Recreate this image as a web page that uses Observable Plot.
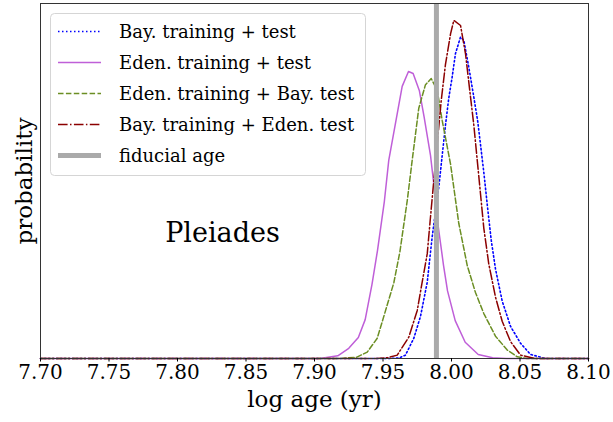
<!DOCTYPE html>
<html>
<head>
<meta charset="utf-8">
<script src="https://cdn.jsdelivr.net/npm/d3@7"></script>
<script src="https://cdn.jsdelivr.net/npm/@observablehq/plot@0.6"></script>
<style>
  html, body { margin: 0; padding: 0; background: #fff; }
  #chart { width: 613px; height: 422px; }
</style>
</head>
<body>
<div id="chart"></div>
<script>
// Age posteriors for the Pleiades: [log age (yr), relative probability]
const bayTrainTest = [
  [7.700, 0], [7.955, 0], [7.9620, 0.002], [7.9664, 0.010], [7.9725, 0.060],
  [7.9774, 0.125], [7.9823, 0.226], [7.9859, 0.360], [7.9907, 0.506],
  [7.9932, 0.600], [7.9956, 0.690], [7.9980, 0.770], [8.0005, 0.833],
  [8.0029, 0.902], [8.0066, 0.951], [8.0090, 0.941], [8.0126, 0.862],
  [8.0163, 0.773], [8.0192, 0.700], [8.0236, 0.550], [8.0265, 0.440],
  [8.0290, 0.350], [8.0321, 0.265], [8.0370, 0.170], [8.0431, 0.095],
  [8.0504, 0.045], [8.0577, 0.012], [8.0686, 0], [8.100, 0]
];
const edenTrainTest = [
  [7.700, 0], [7.904, 0], [7.917, 0.008], [7.925, 0.030], [7.932, 0.062],
  [7.937, 0.115], [7.942, 0.220], [7.946, 0.320], [7.951, 0.465],
  [7.9542, 0.586], [7.9640, 0.805], [7.9686, 0.849], [7.9720, 0.843],
  [7.9765, 0.793], [7.9800, 0.715], [7.9847, 0.600], [7.9871, 0.515],
  [7.9900, 0.400], [7.9942, 0.275], [7.9971, 0.200], [8.0027, 0.112],
  [8.0100, 0.048], [8.0195, 0.012], [8.0300, 0.002], [8.040, 0], [8.100, 0]
];
const edenTrainBayTest = [
  [7.700, 0], [7.919, 0], [7.931, 0.004], [7.9385, 0.019], [7.9458, 0.060],
  [7.9510, 0.130], [7.9579, 0.224], [7.9623, 0.315], [7.9677, 0.467],
  [7.9713, 0.586], [7.9761, 0.740], [7.9810, 0.810], [7.9852, 0.828],
  [7.9896, 0.793], [7.9932, 0.704], [7.9993, 0.575], [8.0053, 0.400],
  [8.0115, 0.275], [8.0175, 0.195], [8.0236, 0.133], [8.0321, 0.066],
  [8.0407, 0.025], [8.0480, 0.005], [8.055, 0], [8.100, 0]
];
const bayTrainEdenTest = [
  [7.700, 0], [7.945, 0], [7.9530, 0.002], [7.9604, 0.010], [7.9688, 0.063],
  [7.9750, 0.142], [7.9786, 0.226], [7.9823, 0.310], [7.9847, 0.420],
  [7.9871, 0.527], [7.9925, 0.763], [7.9956, 0.870], [7.9993, 0.960],
  [8.0017, 1.000], [8.0066, 0.985], [8.0102, 0.902], [8.0139, 0.773],
  [8.0163, 0.690], [8.0199, 0.540], [8.0236, 0.385], [8.0272, 0.280],
  [8.0321, 0.182], [8.0370, 0.110], [8.0431, 0.050], [8.0504, 0.010],
  [8.061, 0], [8.100, 0]
];
const fiducialAge = [7.989];

const seriesNames = [
  "Bay. training + test",
  "Eden. training + test",
  "Eden. training + Bay. test",
  "Bay. training + Eden. test",
  "fiducial age"
];
const xTicks = [7.70, 7.75, 7.80, 7.85, 7.90, 7.95, 8.00, 8.05, 8.10];
const xLabel = "log age (yr)";
const yLabel = "probability";
const clusterName = "Pleiades";

const FONT = "DejaVu Serif";

// Line styles (matplotlib-like dash patterns at 1.5 px width)
const styles = [
  {stroke: "#0000ff", dash: "1.5,2.5", width: 1.6},
  {stroke: "#bf5fd8", dash: null, width: 1.5},
  {stroke: "#6b8e23", dash: "5.5,2.4", width: 1.5},
  {stroke: "#8b0000", dash: "9.6,2.4,1.5,2.4", width: 1.5},
  {stroke: "#aaaaaa", dash: null, width: 5}
];
const seriesData = [bayTrainTest, edenTrainTest, edenTrainBayTest, bayTrainEdenTest];

const lineMarks = seriesData.map((data, i) =>
  Plot.line(data, {
    x: d => d[0],
    y: d => d[1],
    stroke: styles[i].stroke,
    strokeWidth: styles[i].width,
    strokeDasharray: styles[i].dash
  })
);

const chart = Plot.plot({
  width: 613,
  height: 422,
  marginLeft: 40,
  marginRight: 25,
  marginTop: 3,
  marginBottom: 64,
  style: {fontFamily: FONT, fontSize: "20px", background: "white", color: "black"},
  x: {domain: [7.7, 8.1], axis: null},
  y: {domain: [0, 1.05], axis: null},
  marks: [
    ...lineMarks,
    Plot.ruleX(fiducialAge, {stroke: styles[4].stroke, strokeWidth: styles[4].width}),
    Plot.frame({stroke: "#333", strokeWidth: 1}),
    Plot.axisX({
      ticks: xTicks,
      tickFormat: d => d.toFixed(2),
      tickSize: 3.5,
      tickPadding: 3,
      fontSize: 20,
      label: null
    }),
    Plot.text([xLabel], {frameAnchor: "bottom", dy: 48, fontSize: 23}),
    Plot.text([yLabel], {frameAnchor: "left", textAnchor: "middle", dx: -16, rotate: -90, fontSize: 23}),
    Plot.text([clusterName], {x: 7.791, y: 0.345, textAnchor: "start", lineAnchor: "bottom", fontSize: 27})
  ]
});

document.getElementById("chart").appendChild(chart);

// Legend box in the upper-left corner of the axes
const svg = d3.select(chart);
const legend = svg.append("g")
  .attr("font-family", FONT)
  .attr("font-size", 18)
  .attr("text-anchor", "start");
legend.append("rect")
  .attr("x", 50.5).attr("y", 13.5)
  .attr("width", 315).attr("height", 162)
  .attr("rx", 4)
  .attr("fill", "white").attr("fill-opacity", 0.8)
  .attr("stroke", "#d5d5d5");
seriesNames.forEach((name, i) => {
  const cy = 31.5 + i * 31;
  legend.append("line")
    .attr("x1", 58).attr("x2", 101)
    .attr("y1", cy).attr("y2", cy)
    .attr("stroke", styles[i].stroke)
    .attr("stroke-width", styles[i].width)
    .attr("stroke-dasharray", styles[i].dash);
  legend.append("text")
    .attr("x", 119).attr("y", cy + 6.5)
    .attr("fill", "black")
    .attr("text-anchor", "start")
    .text(name);
});
</script>
</body>
</html>
